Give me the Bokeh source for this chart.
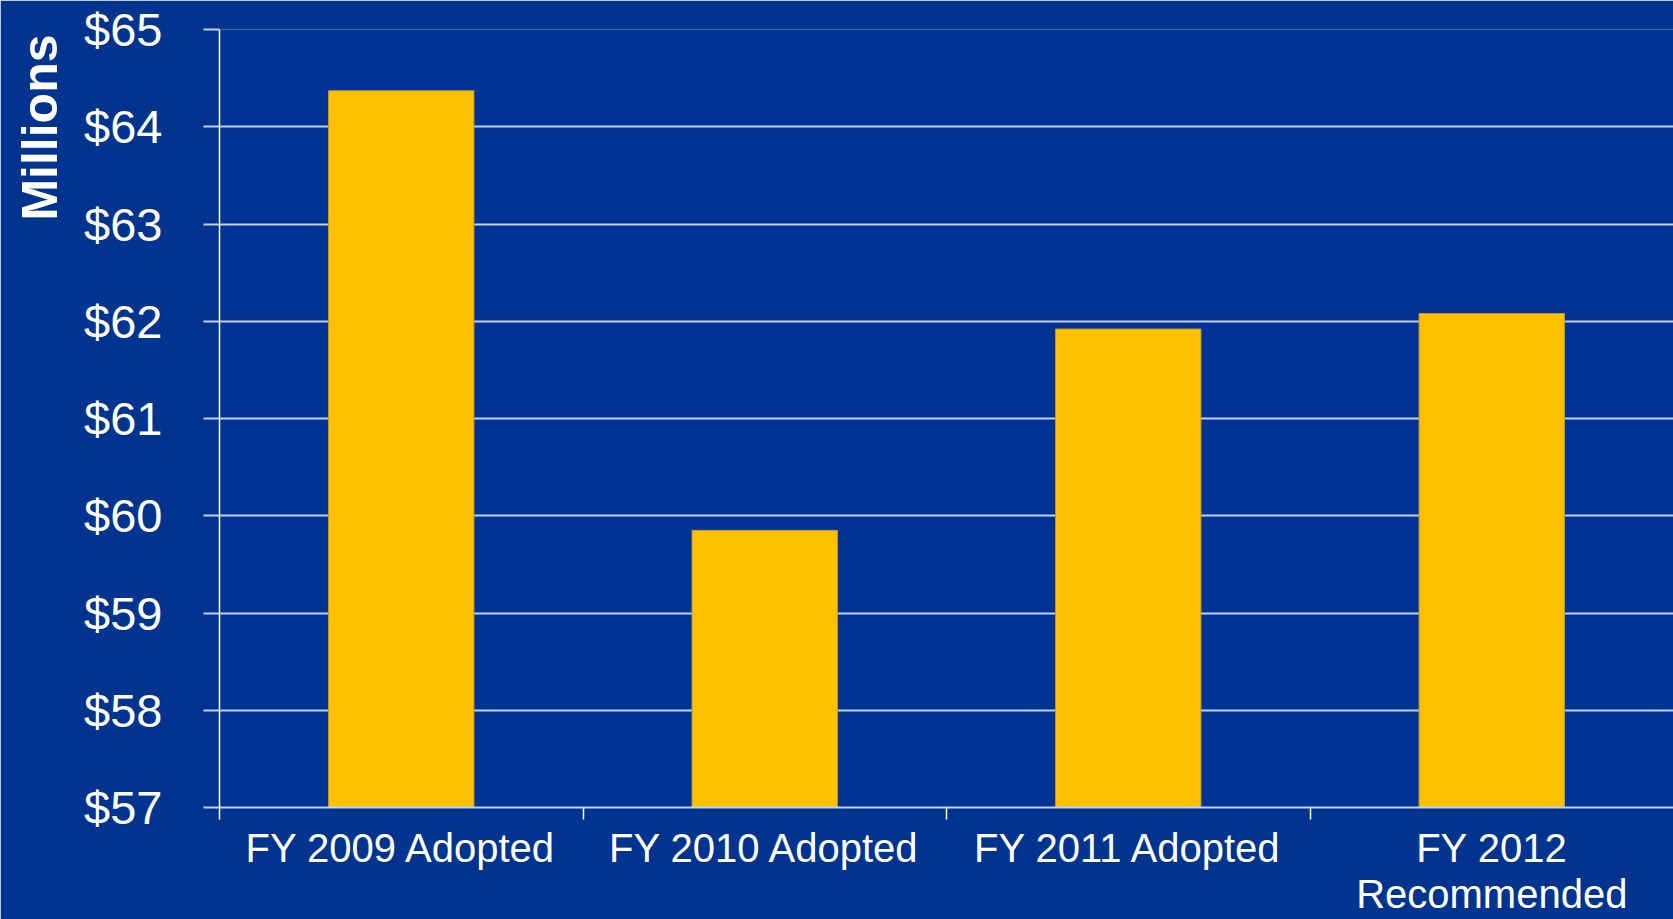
from bokeh.plotting import figure
from bokeh.models import (Range1d, LinearAxis, FixedTicker, ColumnDataSource, Title)
from bokeh.embed import file_html
from bokeh.resources import INLINE

# ---- data ----
categories = ["FY 2009 Adopted", "FY 2010 Adopted", "FY 2011 Adopted", "FY 2012 Recommended"]
category_labels = ["FY 2009 Adopted", "FY 2010 Adopted", "FY 2011 Adopted", "FY 2012\nRecommended"]
budget_millions = [64.37, 59.85, 61.92, 62.08]
y_tick_values = [57, 58, 59, 60, 61, 62, 63, 64, 65]
y_tick_labels = ["$57", "$58", "$59", "$60", "$61", "$62", "$63", "$64", "$65"]
y_title = "Millions"

BG = "#01348f"
FRAME_BG = "#003393"
GRID = "#c4d2f4"
BAR = "#FFC000"
FONT = "Liberation Sans"

W, H = 1673, 919

n = len(categories)
centers = [i + 0.5 for i in range(n)]      # category slot centres
bounds = [float(i) for i in range(n)]      # category slot boundaries

p = figure(x_range=Range1d(0, n),
           y_range=Range1d(y_tick_values[0], y_tick_values[-1]),
           width=W, height=H, output_backend="svg", toolbar_location=None,
           x_axis_location=None, y_axis_location=None,
           min_border_left=219, min_border_right=0, min_border_top=29, min_border_bottom=112)
p.background_fill_color = FRAME_BG
p.border_fill_color = BG
p.outline_line_color = None

src = ColumnDataSource(dict(cat=categories, x=centers, val=budget_millions))
p.vbar(x="x", top="val", bottom=y_tick_values[0], width=0.4, source=src,
       fill_color=BAR, line_color="#b89a3a", line_width=1)

# y axis
yaxis = LinearAxis(ticker=FixedTicker(ticks=y_tick_values))
yaxis.major_label_overrides = {v: s for v, s in zip(y_tick_values, y_tick_labels)}
yaxis.major_label_text_font = FONT
yaxis.major_label_text_font_size = "47px"
yaxis.major_label_text_color = "white"
yaxis.major_label_standoff = 41
yaxis.major_tick_out = 16
yaxis.major_tick_in = 0
yaxis.major_tick_line_color = GRID
yaxis.major_tick_line_width = 2
yaxis.minor_tick_line_color = None
yaxis.axis_line_color = "white"
yaxis.axis_line_width = 1.5
p.add_layout(yaxis, "left")

# category axis: labels at slot centres, tick marks at slot boundaries
xaxis = LinearAxis(ticker=FixedTicker(ticks=centers, minor_ticks=bounds))
xaxis.major_label_overrides = {c: l for c, l in zip(centers, category_labels)}
xaxis.major_label_text_font = FONT
xaxis.major_label_text_font_size = "40px"
xaxis.major_label_text_line_height = 1.06
xaxis.major_label_text_color = "white"
xaxis.major_label_standoff = 6
xaxis.major_tick_line_color = None
xaxis.major_tick_out = 0
xaxis.major_tick_in = 0
xaxis.minor_tick_line_color = "white"
xaxis.minor_tick_line_width = 1.5
xaxis.minor_tick_out = 12
xaxis.minor_tick_in = 0
xaxis.axis_line_color = GRID
xaxis.axis_line_width = 2
p.add_layout(xaxis, "below")

p.ygrid.ticker = FixedTicker(ticks=y_tick_values)
p.ygrid.grid_line_color = GRID
p.ygrid.grid_line_width = 2
p.xgrid.grid_line_color = None

p.add_layout(Title(text=y_title, align="right", vertical_align="top", offset=5, standoff=23,
                   text_font=FONT, text_font_size="50px", text_font_style="bold",
                   text_color="white"), "left")

open("out.html", "w").write(file_html(p, INLINE))
